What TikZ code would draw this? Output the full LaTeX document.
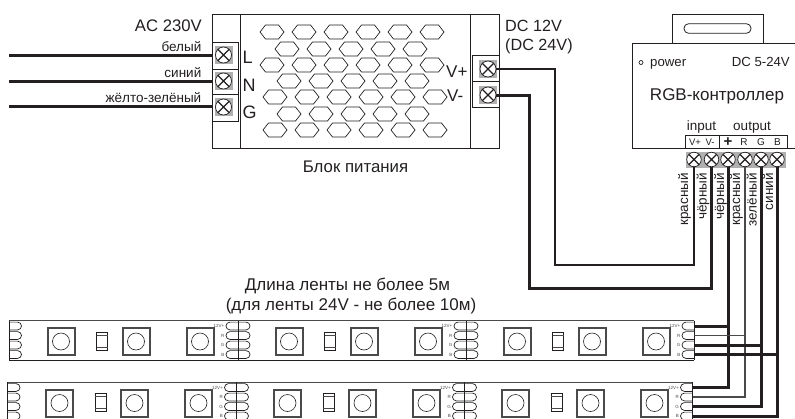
\documentclass[tikz,border=0pt]{standalone}
\usepackage{fontspec}
\setmainfont{Liberation Sans}
\definecolor{ink}{HTML}{231F20}
\definecolor{mid}{HTML}{4A4A4A}
\definecolor{pale}{HTML}{B0B0B0}
\tikzset{
  sz/.style={font=\fontsize{#1}{#1}\selectfont,inner sep=0pt,text=ink},
  box/.style={draw=ink,line width=0.9pt},
  cell/.style={draw=ink,line width=0.7pt,minimum width=#1,inner sep=0pt,outer sep=0pt},
  wire/.style={draw=ink,line width=3pt},
  wirethin/.style={draw=mid,line width=1.7pt},
  wiremed/.style={draw=ink,line width=2.2pt},
  screw/.style={circle,draw=ink,line width=0.7pt,minimum size=16pt,inner sep=0pt,outer sep=0pt,
    path picture={\draw[ink,line width=1.3pt] (path picture bounding box.north west) -- (path picture bounding box.south east)
      (path picture bounding box.north east) -- (path picture bounding box.south west);}},
  hex/.style={draw=ink,line width=0.7pt},
  ledbox/.style={draw=mid,line width=2pt},
  tiny/.style={font=\fontsize{4.5}{5}\selectfont,inner sep=0pt,text=mid}
}
\newcommand{\hexa}[2]{\draw[hex] (#1-12,#2) -- (#1-6.5,#2-7) -- (#1+6.5,#2-7) -- (#1+12,#2) -- (#1+6.5,#2+7) -- (#1-6.5,#2+7) -- cycle;}
\newcommand{\padback}[3]{\fill[pale] (#1-9,#2-9) rectangle (#1+9,#2+8.5);\node[screw,fill=white] (#3) at (#1,#2) {};}
\newcommand{\padoval}[2]{\draw[ink,line width=0.7pt,rounded corners=3.9pt] (#1-12,#2-3.9) rectangle (#1+12,#2+3.9);}
\newcommand{\ledstrip}[2]{%
  \begin{scope}[shift={(#1,#2)}]
    \draw[mid,line width=1pt] (9,320.5) -- (694,320.5);
    \draw[ink,line width=0.9pt] (9,360) -- (694,360);
    \draw[ink,line width=0.8pt] (9,320.5) -- (9,360) (694,320.5) -- (694,360);
    \foreach \cx in {61,136,200,289,364,428,517,592,656}{
      \draw[ledbox] (\cx-13.5,328) rectangle (\cx+13.5,355);
      \draw[ink,line width=0.6pt] (\cx,341.5) circle (8.5);
    }
    \foreach \cx in {102,330,558}{
      \draw[ink,line width=0.8pt] (\cx-5.5,332) rectangle (\cx+5.5,350);
      \draw[mid,line width=0.5pt] (\cx-5.5,335) -- (\cx+5.5,335) (\cx-5.5,347) -- (\cx+5.5,347);
    }
    \foreach \py in {326,335.5,345,354.5}{
      \draw[ink,line width=0.7pt,rounded corners=3.9pt] (9,\py-3.9) -- (21.5,\py-3.9) -- (21.5,\py+3.9) -- (9,\py+3.9);
      \padoval{238}{\py}
      \padoval{466}{\py}
      \draw[ink,line width=0.7pt,rounded corners=3.9pt] (694,\py-3.9) -- (682,\py-3.9) -- (682,\py+3.9) -- (694,\py+3.9);
    }
    \foreach \cutx in {238,466}{
      \draw[ink,line width=0.9pt] (\cutx,320.5) -- (\cutx,360);
      \node[tiny,anchor=east] at (\cutx-13.5,326) {12V+};
      \node[tiny,anchor=east] at (\cutx-13.5,335.5) {R};
      \node[tiny,anchor=east] at (\cutx-13.5,345) {G};
      \node[tiny,anchor=east] at (\cutx-13.5,354.5) {B};
    }
    \node[tiny,anchor=east] at (680.5,326) {12V+};
    \node[tiny,anchor=east] at (680.5,335.5) {R};
    \node[tiny,anchor=east] at (680.5,345) {G};
    \node[tiny,anchor=east] at (680.5,354.5) {B};
  \end{scope}}
\begin{document}
\begin{tikzpicture}[x=1pt,y=-1pt]
\useasboundingbox (0,0) rectangle (795,418);
\begin{scope}
\clip (0,0) rectangle (795,418);
% power supply
\node[box,minimum width=287pt,minimum height=134pt,inner sep=0pt,outer sep=0pt] (psu) at (355.5,81) {};
\draw[box] (240,14) -- (240,148) (470.5,14) -- (470.5,148);
\foreach \xx in {272,304,336,368,400,432}{\hexa{\xx}{32}\hexa{\xx}{65}}
\foreach \xx in {287,319,351,383,415}{\hexa{\xx}{49}}
\foreach \xx in {289,321,353,385,417}{\hexa{\xx}{81}\hexa{\xx}{114}}
\foreach \xx in {275,307,339,371,403,435}{\hexa{\xx}{97}\hexa{\xx}{130}}
% left terminals
\node[cell=26pt,minimum height=27pt] (cL) at (225,55.5) {};
\node[cell=26pt,minimum height=25pt] (cN) at (225,81.5) {};
\node[cell=26pt,minimum height=27pt] (cG) at (225,107.5) {};
\padback{223.5}{55}{sL}
\padback{223.5}{81}{sN}
\padback{223.5}{107}{sG}
% right terminals
\node[cell=27pt,minimum height=26pt] (cP) at (485.5,68) {};
\node[cell=27pt,minimum height=26pt] (cM) at (485.5,94) {};
\padback{488}{69}{sP}
\padback{488}{95}{sM}
% controller
\draw[box] (795,43) -- (632,43) -- (632,148) -- (795,148);
\node[draw=ink,line width=0.9pt,fill=white,minimum width=91pt,minimum height=29pt,inner sep=0pt] (mount) at (717.5,28.5) {};
\node[draw=ink,line width=0.8pt,rounded corners=4.5pt,minimum width=67pt,minimum height=9.5pt,inner sep=0pt] (slot) at (717.5,28.5) {};
\node[draw=ink,fill=white,line width=0.7pt,minimum width=102pt,minimum height=13pt,inner sep=0pt,outer sep=0pt] (head) at (736,142) {};
\draw[ink,line width=0.8pt] (719,135.5) -- (719,148.5);
\fill[pale] (685.5,151.5) rectangle (785.5,167.5);
\node[screw,fill=white,minimum size=14.5pt] (t1) at (694,159.5) {};
\node[screw,fill=white,minimum size=14.5pt] (t2) at (711.5,159.5) {};
\node[screw,fill=white,minimum size=14.5pt] (t3) at (728,159.5) {};
\node[screw,fill=white,minimum size=14.5pt] (t4) at (745,159.5) {};
\node[screw,fill=white,minimum size=14.5pt] (t5) at (761,159.5) {};
\node[screw,fill=white,minimum size=14.5pt] (t6) at (777,159.5) {};
% LED strips
\ledstrip{0}{0}
\ledstrip{-1.5}{61.5}
\coordinate (a12) at (694,326);
\coordinate (aR) at (694,335.5);
\coordinate (aG) at (694,345);
\coordinate (aB) at (694,354.5);
\coordinate (b12) at (692.5,387.5);
\coordinate (bR) at (692.5,397);
\coordinate (bG) at (692.5,406.5);
\coordinate (bB) at (692.5,416);
% mains wires
\coordinate (inL) at (9,55);
\coordinate (inN) at (9,81);
\coordinate (inG) at (9,106);
\draw[wire] (inL) -- (inL -| cL.west);
\draw[wire] (inN) -- (inN -| cN.west);
\draw[wire] (inG) -- (inG -| cG.west);
% supply to controller
\coordinate (k1) at (555,265);
\coordinate (k2) at (529,288);
\draw[wiremed,line join=miter] (sP.east) -- (k1 |- sP.east) -- (k1) -| (t1.south);
\draw[wire,line join=miter] (sM.east) -- (k2 |- sM.east) -- (k2) -| (t2.south);
% controller to strips
\draw[wire] (a12) -| (t3.south);
\draw[wire] (b12) -| (t3.south);
\draw[wirethin] (aR) -| (t4.south);
\draw[wirethin] (bR) -| (t4.south);
\draw[wire] (aG) -| (t5.south);
\draw[wire] (bG) -| (t5.south);
\draw[wire] (aB) -| (t6.south);
\draw[wire] (bB) -| (t6.south);
\end{scope}
% labels
\node[sz=16.7,anchor=base east] (acl) at (202,31) {AC 230V};
\node[sz=13.5,anchor=base east] (w1) at (201.5,51.5) {белый};
\node[sz=13.5,anchor=base east] (w2) at (201.5,77) {синий};
\node[sz=13.5,anchor=base east] (w3) at (201.5,102) {жёлто-зелёный};
\node[sz=18,anchor=base west] (tl) at (242.5,63) {L};
\node[sz=18,anchor=base west] (tn) at (242.5,91) {N};
\node[sz=18,anchor=base west] (tg) at (242.5,118) {G};
\node[sz=17,anchor=base west] (vp) at (446,77) {V+};
\node[sz=17,anchor=base west] (vm) at (447,101) {V-};
\node[sz=16.8,anchor=base] (bp) at (355.5,172.5) {Блок питания};
\node[sz=16.2,anchor=base west] (dc1) at (505,31) {DC 12V};
\node[sz=16.2,anchor=base west] (dc2) at (505,50) {(DC 24V)};
\draw[ink,line width=0.7pt] (641,62.5) circle (2);
\node[sz=13.2,anchor=base west] (pw) at (650,66) {power};
\node[sz=13.2,anchor=base east] (dcv) at (790,66) {DC 5-24V};
\node[sz=17,anchor=base] (rgb) at (717,100) {RGB-контроллер};
\node[sz=13.5,anchor=base] (inp) at (701.5,130) {input};
\node[sz=13.5,anchor=base] (outp) at (752,130) {output};
\node[sz=9.5,anchor=base] (hvp) at (695,145.5) {V+};
\node[sz=9.5,anchor=base] (hvm) at (710,145.5) {V-};
\node[sz=15,anchor=base,font=\fontsize{15}{15}\bfseries\selectfont] (hp) at (728,146) {+};
\node[sz=10,anchor=base] (hr) at (744,145.5) {R};
\node[sz=10,anchor=base] (hg) at (761,145.5) {G};
\node[sz=10,anchor=base] (hb) at (777.5,145.5) {B};
\node[sz=13.5,rotate=90,anchor=base east] (l1) at (688,173) {красный};
\node[sz=13.5,rotate=90,anchor=base east] (l2) at (706.5,173) {чёрный};
\node[sz=13.5,rotate=90,anchor=base east] (l3) at (724,173) {чёрный};
\node[sz=13.5,rotate=90,anchor=base east] (l4) at (740,173) {красный};
\node[sz=13.5,rotate=90,anchor=base east] (l5) at (756.5,173) {зелёный};
\node[sz=13.5,rotate=90,anchor=base east] (l6) at (773,173) {синий};
\node[sz=17,anchor=base] (n1) at (347.5,290) {Длина ленты не более 5м};
\node[sz=17,anchor=base] (n2) at (351,310) {(для ленты 24V - не более 10м)};
\end{tikzpicture}
\end{document}
